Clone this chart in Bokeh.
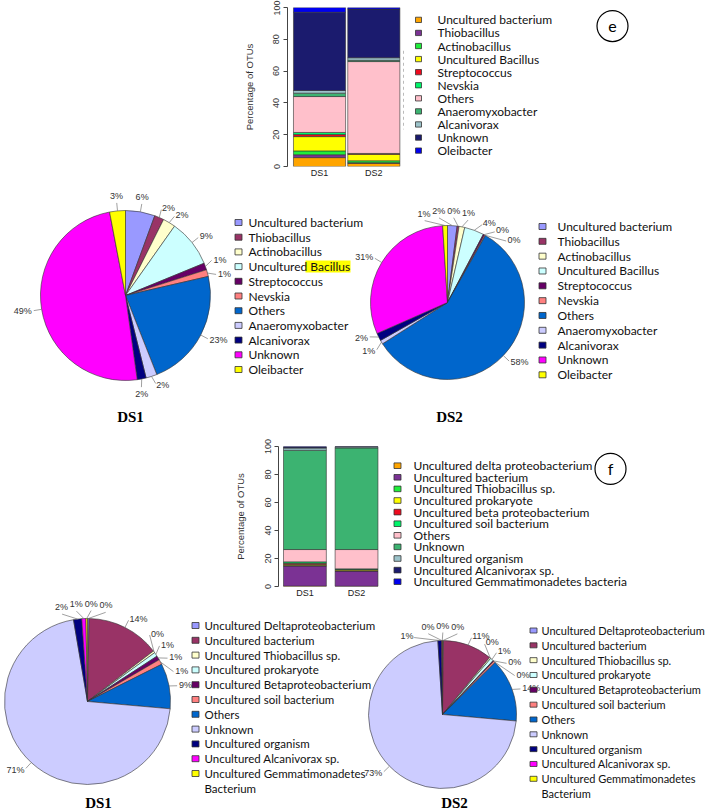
import numpy as np
from bokeh.plotting import figure
from bokeh.models import Range1d, Spacer, FixedTicker
from bokeh.layouts import row, column
from bokeh.embed import file_html
from bokeh.resources import INLINE
from bokeh.core.properties import value

# ---------------- data ----------------
samples = ["DS1", "DS2"]

e_taxa = ["Uncultured bacterium", "Thiobacillus", "Actinobacillus", "Uncultured Bacillus",
          "Streptococcus", "Nevskia", "Others", "Anaeromyxobacter", "Alcanivorax",
          "Unknown", "Oleibacter"]
e_ds1 = [5.6, 1.8, 2.4, 9.0, 1.3, 1.3, 22.6, 2.1, 1.7, 49.2, 3.0]
e_ds2 = [2.0, 0.4, 1.2, 4.1, 0.3, 0.2, 57.8, 0.8, 1.6, 30.6, 1.0]

f_bar_taxa = ["Uncultured delta proteobacterium", "Uncultured bacterium",
              "Uncultured Thiobacillus sp.", "Uncultured prokaryote",
              "Uncultured beta proteobacterium", "Uncultured soil bacterium", "Others",
              "Unknown", "Uncultured organism", "Uncultured Alcanivorax sp.",
              "Uncultured Gemmatimonadetes bacteria"]
f_pie_taxa = ["Uncultured Deltaproteobacterium", "Uncultured bacterium",
              "Uncultured Thiobacillus sp.", "Uncultured prokaryote",
              "Uncultured Betaproteobacterium", "Uncultured soil bacterium", "Others",
              "Unknown", "Uncultured organism", "Uncultured Alcanivorax sp.",
              "Uncultured Gemmatimonadetes\nBacterium"]
f_ds1 = [0.3, 14.3, 0.4, 0.8, 0.8, 1.0, 8.8, 70.9, 1.6, 0.8, 0.3]
f_ds2 = [0.2, 10.8, 0.3, 0.7, 0.2, 0.4, 13.8, 72.6, 0.8, 0.1, 0.1]

y_ticks = [0, 20, 40, 60, 80, 100]
y_title = "Percentage of OTUs"

# ---------------- styles ----------------
BAR_COLORS = ["#FFA500", "#7B3294", "#1FEE3A", "#FFFF00", "#EE0A1E", "#00F56A",
              "#FFC0CB", "#3CB371", "#9CC3CA", "#1B1B6E", "#0000F0"]
PIE_COLORS = ["#9999FF", "#993366", "#FFFFCC", "#CCFFFF", "#660066", "#FF8080",
              "#0066CC", "#CCCCFF", "#000080", "#FF00FF", "#FFFF00"]
LEG_FONT = "Lato"
LBL_FONT = "Liberation Sans"
TITLE_FONT = "Liberation Serif"
LEG_FS = 12
AXIS_W = 46  # expected width of the y-axis panel (ticks + labels + title)


def canvas(x0, y0, w, h):
    p = figure(width=w, height=h, x_range=Range1d(x0, x0 + w),
               y_range=Range1d(-(y0 + h), -y0), output_backend="svg",
               toolbar_location=None, min_border=0, x_axis_type=None, y_axis_type=None)
    p.outline_line_color = None
    return p


def stacked_bar(v1, v2, fw, fh, b_top, xr, bw):
    p = figure(frame_width=fw, frame_height=fh, x_range=Range1d(*xr),
               y_range=Range1d(0, 100), output_backend="svg", toolbar_location=None,
               min_border_left=0, min_border_right=0,
               min_border_top=b_top, min_border_bottom=0)
    data = np.array([v1, v2], dtype=float)
    tops = np.cumsum(data, axis=1)
    bottoms = tops - data
    xs = np.repeat(np.arange(1, len(samples) + 1), data.shape[1])
    p.vbar(x=xs, width=bw, bottom=bottoms.ravel(), top=tops.ravel(),
           fill_color=BAR_COLORS * len(samples), line_color="#333333", line_width=0.6)
    p.xgrid.visible = False
    p.ygrid.visible = False
    p.outline_line_color = None
    ya = p.yaxis[0]
    ya.ticker = FixedTicker(ticks=y_ticks)
    ya.major_label_orientation = "vertical"
    ya.minor_tick_line_color = None
    ya.major_tick_in = 0
    ya.major_tick_out = 4
    ya.major_label_standoff = 4
    ya.axis_label = y_title
    ya.axis_label_standoff = 16
    ya.axis_label_text_font_style = "normal"
    ya.axis_label_text_font = LBL_FONT
    ya.axis_label_text_font_size = "9.5px"
    ya.axis_label_text_color = "#333333"
    ya.major_label_text_font = LBL_FONT
    ya.major_label_text_font_size = "9px"
    ya.major_label_text_color = "#333333"
    ya.axis_line_color = "#444444"
    ya.major_tick_line_color = "#444444"
    xa = p.xaxis[0]
    xa.ticker = FixedTicker(ticks=list(range(1, len(samples) + 1)))
    xa.major_label_overrides = {i + 1: s for i, s in enumerate(samples)}
    xa.axis_line_color = None
    xa.major_tick_line_color = None
    xa.minor_tick_line_color = None
    xa.major_tick_in = 0
    xa.major_tick_out = 0
    xa.major_label_standoff = 1
    xa.major_label_text_font = LBL_FONT
    xa.major_label_text_font_size = "9px"
    xa.major_label_text_color = "#222222"
    return p


def legend(p, names, colors, mx, tx, y0, dy, mw, mh, fs=LEG_FS, border="#333333"):
    n = len(names)
    ys = [y0 + dy * i for i in range(n)]
    p.rect(x=[mx] * n, y=[-y for y in ys], width=mw, height=mh, fill_color=colors,
           line_color=border, line_width=0.8)
    lines, lys = [], []
    for name, y in zip(names, ys):
        for k, part in enumerate(name.split("\n")):
            lines.append(part)
            lys.append(-(y + dy * k))
    p.text(x=[tx] * len(lines), y=lys, text=lines, text_font=value(LEG_FONT),
           text_font_size=f"{fs}px", text_baseline="middle", text_align="left",
           text_color="#111111")


def spread_angles(theta, min_sep, iters=400):
    t = np.where(theta > 1.6 * np.pi, theta - 2 * np.pi, theta).astype(float)
    order = np.argsort(t)
    s = t[order].copy()
    for _ in range(iters):
        for i in range(len(s) - 1):
            gap = s[i + 1] - s[i]
            if gap < min_sep:
                d = (min_sep - gap) / 2
                s[i] -= d
                s[i + 1] += d
    out = np.empty_like(s)
    out[order] = s
    return out


def pie(p, vals, cx, cy, r, sep=15.0, gap=10):
    v = np.asarray(vals, float)
    frac = v / v.sum()
    cum = np.concatenate([[0.0], np.cumsum(frac)])
    p.wedge(x=cx, y=-cy, radius=r,
            start_angle=list(np.pi / 2 - 2 * np.pi * cum[1:]),
            end_angle=list(np.pi / 2 - 2 * np.pi * cum[:-1]),
            fill_color=PIE_COLORS, line_color="#333333", line_width=0.6)
    mid = np.pi * (cum[:-1] + cum[1:])
    lab = spread_angles(mid, sep / (r + gap))
    x_rim = cx + r * np.sin(mid)
    y_rim = cy - r * np.cos(mid)
    x_in = cx + (r + gap - 2) * np.sin(lab)
    y_in = cy - (r + gap - 2) * np.cos(lab)
    p.segment(x0=list(x_rim), y0=list(-y_rim), x1=list(x_in), y1=list(-y_in),
              line_color="#777777", line_width=0.7)
    xa = cx + (r + gap) * np.sin(lab)
    ya = cy - (r + gap) * np.cos(lab)
    texts = [f"{int(round(x))}%" for x in v]
    sn, cs = np.sin(lab), np.cos(lab)
    groups = {}
    for i in range(len(v)):
        if sn[i] > 0.3:
            key = ("left", "middle")
        elif sn[i] < -0.3:
            key = ("right", "middle")
        elif cs[i] > 0:
            key = ("center", "bottom")
        else:
            key = ("center", "top")
        groups.setdefault(key, []).append(i)
    for (al, bl), idx in groups.items():
        p.text(x=[xa[i] for i in idx], y=[-ya[i] for i in idx], text=[texts[i] for i in idx],
               text_font=value(LBL_FONT), text_font_size="9px", text_color="#333333",
               text_align=al, text_baseline=bl)


def title(p, x, y, s):
    p.text(x=[x], y=[-y], text=[s], text_font=value(TITLE_FONT), text_font_size="15px",
           text_font_style="bold", text_align="center", text_baseline="middle",
           text_color="#000000")


def badge(p, x, y, s):
    p.scatter(x=[x], y=[-y], size=31, marker="circle", fill_color=None,
              line_color="#000000", line_width=1.2)
    p.text(x=[x], y=[-y], text=[s], text_font=value(LEG_FONT), text_font_size="16px",
           text_align="center", text_baseline="middle", text_color="#000000")


W, H = 708, 812

# ---------------- row 1: bar e + legend ----------------
bar_e = stacked_bar(e_ds1, e_ds2, 114, 159, 7, (0.41, 2.51), 0.96)
leg_e = canvas(400, 0, W - 400, 180)
legend(leg_e, e_taxa, BAR_COLORS, 417, 436, 14, 14.8, 6, 6)
leg_e.segment(x0=[402], y0=[-49], x1=[402], y1=[-138], line_color="#bbbbbb",
              line_dash="3 3", line_width=1)
badge(leg_e, 611, 21, "e")
row1 = row(Spacer(width=286 - AXIS_W, height=180), bar_e, leg_e)

# ---------------- row 2: pies e ----------------
pe = canvas(0, 180, W, 245)
pie(pe, e_ds1, 125, 295, 85)
pe.rect(x=[327.5], y=[-266], width=45, height=12, fill_color="#FFFF00", line_color=None)
legend(pe, e_taxa, PIE_COLORS, 238, 248, 222, 14.7, 7, 6)
pie(pe, e_ds2, 447, 302, 77)
legend(pe, e_taxa, PIE_COLORS, 542, 557, 226, 14.83, 7, 6)
title(pe, 130, 416, samples[0])
title(pe, 449, 416, samples[1])

# ---------------- row 3: bar f + legend ----------------
bar_f = stacked_bar(f_ds1, f_ds2, 104, 140, 21, (0.488, 2.503), 0.83)
leg_f = canvas(381, 425, W - 381, 175)
legend(leg_f, f_bar_taxa, BAR_COLORS, 396, 412, 449, 14.5, 7, 7)
badge(leg_f, 609, 453, "f")
row3 = row(Spacer(width=277 - AXIS_W, height=175), bar_f, leg_f)

# ---------------- row 4: pies f ----------------
pf = canvas(0, 600, W, H - 600)
pie(pf, f_ds1, 87, 701, 83)
legend(pf, f_pie_taxa, PIE_COLORS, 195, 204, 625, 14.8, 7, 6, fs=11.5)
pie(pf, f_ds2, 442, 714, 74)
legend(pf, f_pie_taxa, PIE_COLORS, 533, 541, 630, 14.83, 7, 5, fs=11)
title(pf, 98, 802, samples[0])
title(pf, 454, 802, samples[1])

layout = column(row1, pe, row3, pf)
open("out.html", "w").write(file_html(layout, INLINE))
